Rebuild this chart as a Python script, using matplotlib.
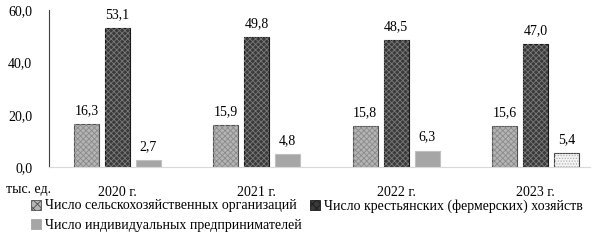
import numpy as np
import matplotlib
matplotlib.use("Agg")
import matplotlib.pyplot as plt
from matplotlib.patches import Patch

plt.rcParams['font.family'] = ['Liberation Serif', 'DejaVu Serif']
plt.rcParams['hatch.linewidth'] = 0.6

years = ["2020 г.", "2021 г.", "2022 г.", "2023 г."]
org = [16.3, 15.9, 15.8, 15.6]
farms = [53.1, 49.8, 48.5, 47.0]
ip = [2.7, 4.8, 6.3, 5.4]
names = ["Число сельскохозяйственных организаций",
         "Число крестьянских (фермерских) хозяйств",
         "Число индивидуальных предпринимателей"]


def fmt(v):
    return ("%.1f" % v).replace(".", ",")


fig = plt.figure(figsize=(6.05, 2.4), dpi=100)
ax = fig.add_axes([0.081, 0.304, 0.894, 0.654])

x = np.arange(len(years))
w = 0.18
step = 0.222

# series 1 - light checkered
ax.bar(x - step, org, w, color="#b4b4b4", edgecolor="#505050", linewidth=0.8)
ax.bar(x - step, org, w, color="none", edgecolor="#8a8a8a", hatch="xxxxxx", linewidth=0)
# series 2 - dark checkered
ax.bar(x, farms, w, color="#3a3a3a", edgecolor="#1a1a1a", linewidth=0.8)
ax.bar(x, farms, w, color="none", edgecolor="#7a7a7a", hatch="xxxxxx", linewidth=0)
# series 3 - solid gray, last bar dotted
b3 = ax.bar(x + step, ip, w, color="#a6a6a6", edgecolor="#c0c0c0", linewidth=0.8)
b3[-1].set_facecolor("#f4f4f4")
b3[-1].set_edgecolor("#404040")
ax.bar(x[-1:] + step, ip[-1:], w, color="none", edgecolor="#b0b0b0", hatch="......", linewidth=0)

for xs, vals in [(x - step, org), (x, farms), (x + step, ip)]:
    for xi, v in zip(xs, vals):
        ax.annotate(fmt(v), (xi, v), xytext=(0, 5), textcoords="offset points",
                    ha="center", va="bottom", fontsize=10)

ax.set_ylim(0, 60)
ax.set_xlim(-0.49, 3.39)
ax.set_yticks([0, 20, 40, 60])
ax.set_yticklabels([fmt(t) for t in [0, 20, 40, 60]], fontsize=10)
ax.set_xticks(x)
ax.set_xticklabels(years, fontsize=10)
ax.tick_params(axis="x", length=0, pad=14)
ax.tick_params(axis="y", length=0, pad=12)
for s in ["top", "right"]:
    ax.spines[s].set_visible(False)
ax.spines["left"].set_color("#404040")
ax.spines["left"].set_linewidth(0.8)
ax.spines["bottom"].set_color("#d9d9d9")
ax.spines["bottom"].set_linewidth(0.8)

fig.text(6 / 605, 1 - 190 / 240, "тыс. ед.", fontsize=10, va="center", ha="left")

handles = [Patch(facecolor="#b4b4b4", edgecolor="#505050", hatch="xxxx", linewidth=0.6),
           Patch(facecolor="#a6a6a6", edgecolor="#a6a6a6", linewidth=0.6),
           Patch(facecolor="#3a3a3a", edgecolor="#1a1a1a", hatch="xxxx", linewidth=0.6)]
labels = [names[0], names[2], names[1]]
fig.legend(handles, labels, loc="upper left", bbox_to_anchor=(31 / 605, 1 - 199 / 240),
           ncol=2, frameon=False, fontsize=10, handlelength=0.7, handleheight=0.7,
           handletextpad=0.3, columnspacing=0.6, labelspacing=0.45,
           borderaxespad=0, borderpad=0)

fig.savefig("out.png", dpi=100)
